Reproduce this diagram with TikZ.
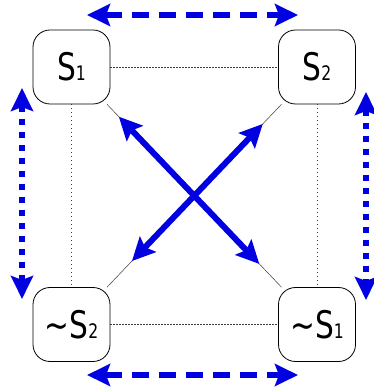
\documentclass[tikz,border=0pt]{standalone}
\usepackage{fontspec}
\usetikzlibrary{arrows.meta}
\newfontfamily\squareFont[FakeStretch=0.78]{DejaVu Sans}
\newcommand{\sqTerm}[2]{#1{\fontsize{20}{20}\selectfont #2}}
\begin{document}
\begin{tikzpicture}[x=1pt,y=1pt,
  termBox/.style={draw=drawColor,line width=0.8pt,rounded corners=17pt,minimum width=77pt,minimum height=74pt,inner sep=0pt,font=\squareFont\fontsize{38}{38}\selectfont},
  thinLine/.style={draw=lineColor,line width=0.5pt},
  blueArrow/.style={draw=arrowColor,line width=6pt,{Stealth[length=23pt,width=22pt,inset=4pt]}-{Stealth[length=23pt,width=22pt,inset=4pt]}},
  blueDashed/.style={blueArrow,dash pattern=on 17pt off 10pt},
  blueDotted/.style={blueArrow,dash pattern=on 6pt off 7pt}]
\definecolor{fillColor}{RGB}{255,255,255}
\definecolor{drawColor}{RGB}{0,0,0}
\definecolor{lineColor}{RGB}{60,60,60}
\definecolor{arrowColor}{RGB}{0,0,225}
\path[use as bounding box,fill=fillColor] (0,0) rectangle (374.00,388.00);

\node[termBox] (s1) at ( 71.50,321.00) {\sqTerm{S}{1}};

\node[termBox] (s2) at (317.00,321.00) {\sqTerm{S}{2}};

\node[termBox] (notS2) at ( 71.50, 63.50) {\sqTerm{\char`\~S}{2}};

\node[termBox] (notS1) at (317.00, 63.50) {\sqTerm{\char`\~S}{1}};

\coordinate (topL) at ( 87.00,373.00);
\coordinate (topR) at (298.00,373.00);
\coordinate (botL) at ( 87.00, 13.00);
\coordinate (botR) at (298.00, 13.00);
\coordinate (leftT) at ( 22.00,300.00);
\coordinate (leftB) at ( 22.00, 89.00);
\coordinate (rightT) at (366.00,296.00);
\coordinate (rightB) at (366.00, 88.00);

% thin relations
\path[thinLine,dash pattern=on 2pt off 1pt] (s1) -- (s2);

\path[thinLine,dash pattern=on 2pt off 1pt] (notS2) -- (notS1);

\path[thinLine,dash pattern=on 1pt off 3pt] (s1) -- (notS2);

\path[thinLine,dash pattern=on 1pt off 3pt] (s2) -- (notS1);

\path[thinLine] (s1) -- (notS1);

\path[thinLine] (s2) -- (notS2);

% contradictions
\path[blueArrow,shorten <=17pt,shorten >=32pt] (s1) -- (notS1);

\path[blueArrow,shorten <=27pt,shorten >=36pt] (s2) -- (notS2);

% contrariety and implication
\path[blueDashed] (topL) -- (topR);

\path[blueDashed] (botL) -- (botR);

\path[blueDotted] (leftT) -- (leftB);

\path[blueDotted] (rightT) -- (rightB);
\end{tikzpicture}
\end{document}
